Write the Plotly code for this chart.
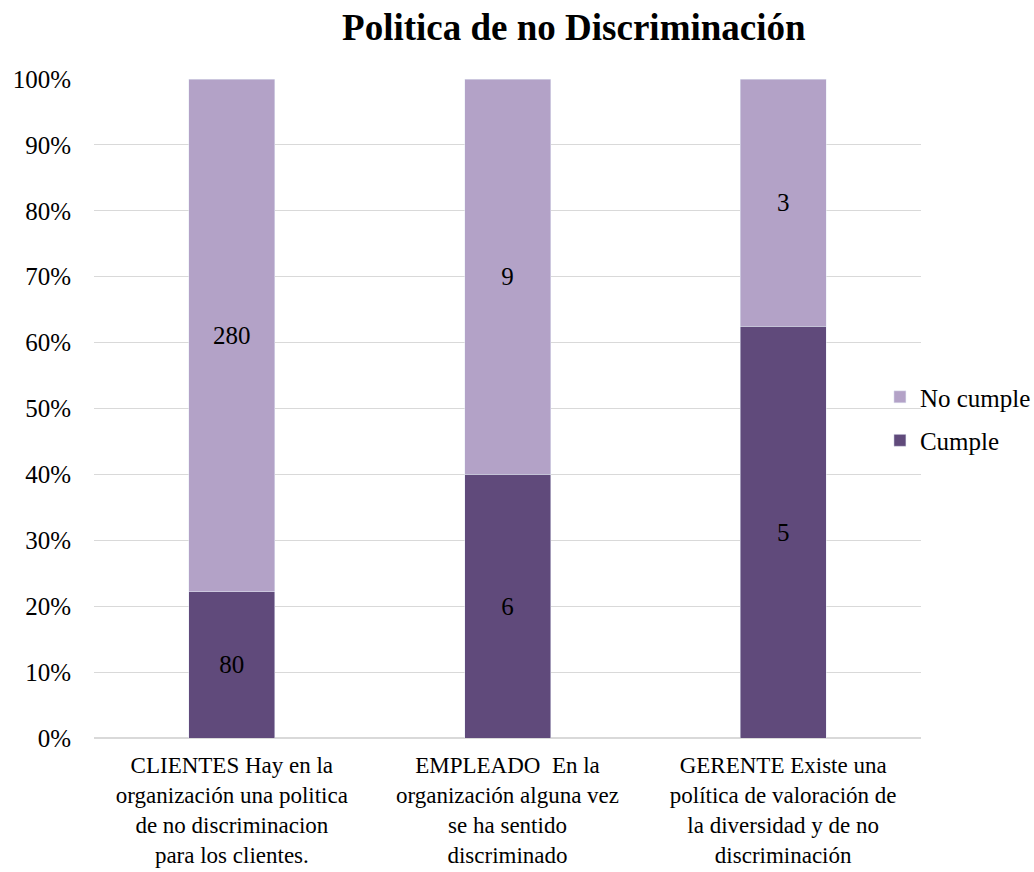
import plotly.graph_objects as go

categories = [
    "CLIENTES Hay en la<br>organización una politica<br>de no discriminacion<br>para los clientes.",
    "EMPLEADO  En la<br>organización alguna vez<br>se ha sentido<br>discriminado",
    "GERENTE Existe una<br>política de valoración de<br>la diversidad y de no<br>discriminación",
]
cumple = [80, 6, 5]
no_cumple = [280, 9, 3]

FONT = "Liberation Serif"
DARK = "#604A7B"
LIGHT = "#B3A2C7"

fig = go.Figure()
fig.add_trace(go.Bar(
    x=categories, y=cumple, name="Cumple", marker_color=DARK, legendgroup="c", legendrank=2,
    text=[str(v) for v in cumple], textposition="inside", insidetextanchor="middle",
    textfont=dict(color="black", size=25, family=FONT), width=0.312,
))
fig.add_trace(go.Bar(
    x=categories, y=no_cumple, name="No cumple", marker_color=LIGHT, legendgroup="n", legendrank=1,
    text=[str(v) for v in no_cumple], textposition="inside", insidetextanchor="middle",
    textfont=dict(color="black", size=25, family=FONT), width=0.312,
))

fig.update_layout(
    barmode="stack",
    barnorm="percent",
    width=1034, height=872,
    margin=dict(l=94, r=113, t=79, b=134, autoexpand=False),
    paper_bgcolor="white", plot_bgcolor="white",
    font=dict(family=FONT, size=23, color="black"),
    title=dict(text="<b>Politica de no Discriminación</b>", font=dict(size=37, family=FONT, color="black"),
               x=0.555, xanchor="center", xref="container", y=0.969, yanchor="middle"),
    legend=dict(traceorder="grouped", xref="container", x=0.851, xanchor="left",
                yref="container", y=0.52, yanchor="middle", itemwidth=30,
                font=dict(size=25, family=FONT), tracegroupgap=8,
                bgcolor="rgba(0,0,0,0)"),
)
fig.update_yaxes(range=[0, 100], dtick=10, ticksuffix="%", gridcolor="#d9d9d9", gridwidth=1,
                 zeroline=True, zerolinecolor="#d9d9d9", showline=False,
                 tickfont=dict(size=25, family=FONT), ticks="", ticklabelstandoff=22)
fig.update_xaxes(showline=False, tickfont=dict(size=23, family=FONT), ticks="", tickangle=0,
                 ticklabelstandoff=11)

fig.write_html("out.html")
